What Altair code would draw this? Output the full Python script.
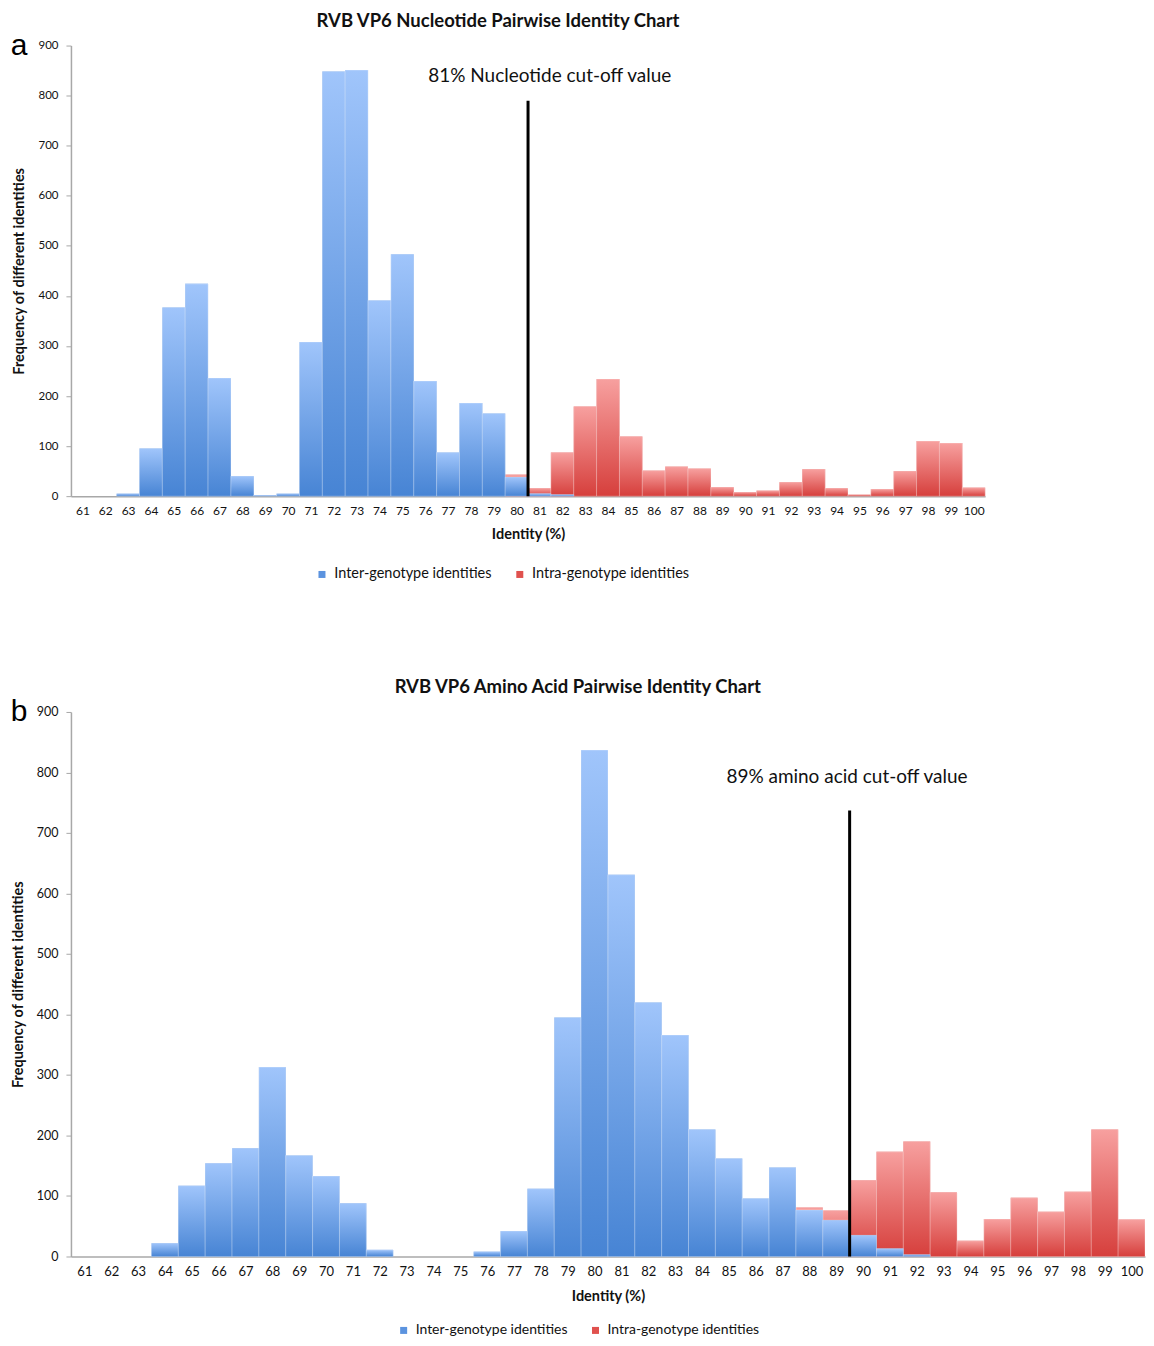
import altair as alt
import pandas as pd

# ---------------- data ----------------
identity = list(range(61, 101))
series_names = ["Inter-genotype identities", "Intra-genotype identities"]

# Panel a: nucleotide pairwise identities
nt_inter = [0, 0, 5, 95, 377, 424, 236, 40, 2, 5,
            308, 848, 851, 391, 483, 230, 87, 186, 165, 38,
            5, 3, 0, 0, 0, 0, 0, 0, 0, 0,
            0, 0, 0, 0, 0, 0, 0, 0, 0, 0]
nt_intra = [0, 0, 0, 0, 0, 0, 0, 0, 0, 0,
            0, 0, 0, 0, 0, 0, 0, 0, 0, 43,
            16, 87, 179, 234, 119, 51, 59, 55, 18, 8,
            11, 28, 54, 16, 3, 14, 50, 110, 106, 17]
nt_cutoff = [80.5]
nt_cutoff_top = [790]
nt_note = ["81% Nucleotide cut-off value"]
nt_note_pos = [81.45, 840]

# Panel b: amino acid pairwise identities
aa_inter = [0, 0, 0, 22, 117, 154, 179, 313, 167, 133,
            88, 11, 0, 0, 0, 8, 42, 112, 395, 837,
            631, 420, 366, 210, 162, 96, 147, 77, 60, 35,
            13, 3, 0, 0, 0, 0, 0, 0, 0, 0]
aa_intra = [0, 0, 0, 0, 0, 0, 0, 0, 0, 0,
            0, 0, 0, 0, 0, 0, 0, 0, 0, 0,
            0, 0, 0, 0, 0, 0, 0, 81, 76, 126,
            173, 190, 106, 26, 62, 97, 74, 107, 210, 61]
aa_cutoff = [89.5]
aa_cutoff_top = [737]
aa_note = ["89% amino acid cut-off value"]
aa_note_pos = [89.4, 793]

y_ticks = list(range(0, 901, 100))

FONT = "Lato"
BLUE_FLAT = "#5b93df"
RED_FLAT = "#e0514e"
blue_grad = alt.Gradient(gradient="linear",
                         stops=[alt.GradientStop(color="#a0c5fb", offset=0),
                                alt.GradientStop(color="#4784d4", offset=1)],
                         x1=0, x2=0, y1=0, y2=1)
red_grad = alt.Gradient(gradient="linear",
                        stops=[alt.GradientStop(color="#f7a09f", offset=0),
                               alt.GradientStop(color="#d63f3c", offset=1)],
                        x1=0, x2=0, y1=0, y2=1)


def panel(inter, intra, cutoff, cutoff_top, note, note_pos, letter, title,
          width, height, xlab_size, ylab_size, legend_x, legend_y, legend_size,
          title_offset):
    df = pd.DataFrame({
        "id": identity * 2,
        "value": inter + intra,
        "series": [series_names[0]] * len(identity) + [series_names[1]] * len(identity),
    })
    base = (alt.Chart(df)
            .transform_filter("datum.value > 0")
            .transform_calculate(lo="datum.id - 0.5", hi="datum.id + 0.5"))

    x_scale = alt.Scale(domain=[60.5, 100.5], nice=False, zero=False)
    y_scale = alt.Scale(domain=[0, 900], nice=False)
    x_axis = alt.Axis(values=identity, format="d", title="Identity (%)",
                      ticks=False, grid=False, labelFont=FONT,
                      labelFontSize=xlab_size, labelColor="#111",
                      labelPadding=9, labelFlush=False, labelOverlap=False,
                      labelBound=False,
                      domainColor="#a8a8a8", domainWidth=1.5,
                      titleFont=FONT, titleFontSize=14.5, titleFontWeight="bold",
                      titleColor="#111", titlePadding=11)
    y_axis = alt.Axis(values=y_ticks, format="d",
                      title="Frequency of different identities",
                      grid=False, tickSize=5, tickColor="#a8a8a8",
                      labelFont=FONT, labelFontSize=ylab_size,
                      labelColor="#111", labelPadding=8, labelOverlap=False,
                      domainColor="#a8a8a8", domainWidth=1.5,
                      titleFont=FONT, titleFontSize=14.5, titleFontWeight="bold",
                      titleColor="#111", titlePadding=11)

    def X(field):
        return alt.X(field, scale=x_scale, axis=x_axis)

    def Y(field):
        return alt.Y(field, scale=y_scale, axis=y_axis)

    color = alt.Color("series:N",
                      scale=alt.Scale(domain=series_names, range=[BLUE_FLAT, RED_FLAT]),
                      legend=alt.Legend(orient="none", legendX=legend_x, legendY=legend_y,
                                        direction="horizontal", title=None,
                                        symbolType="square", symbolSize=49,
                                        symbolStrokeWidth=0, labelFont=FONT,
                                        labelFontSize=legend_size, labelColor="#111",
                                        labelOffset=5, columnPadding=20, padding=0))

    def bars(name, grad):
        sub = base.transform_filter(alt.datum.series == name)
        flat = sub.mark_bar().encode(x=X("lo:Q"), x2="hi:Q", y=Y("value:Q"),
                                     y2=alt.datum(0), color=color)
        g = sub.mark_bar(color=grad, stroke="white", strokeWidth=0.6,
                         strokeOpacity=0.45).encode(x=X("lo:Q"), x2="hi:Q",
                                                    y=Y("value:Q"), y2=alt.datum(0))
        return [flat, g]

    layers = bars(series_names[1], red_grad) + bars(series_names[0], blue_grad)

    rule_df = pd.DataFrame({"cut": cutoff, "top": cutoff_top})
    rule = alt.Chart(rule_df).mark_rule(color="black", strokeWidth=3).encode(
        x=X("cut:Q"), y=Y("top:Q"), y2=alt.datum(0))

    note_df = pd.DataFrame({"note": note, "nx": [note_pos[0]], "ny": [note_pos[1]]})
    note_mark = alt.Chart(note_df).mark_text(
        font=FONT, fontSize=19, align="center", baseline="middle", color="#111"
    ).encode(x=X("nx:Q"), y=Y("ny:Q"), text="note:N")

    letter_df = pd.DataFrame({"t": [letter]})
    letter_mark = alt.Chart(letter_df).mark_text(
        font="Liberation Sans", fontSize=30, align="center", baseline="middle", color="black"
    ).encode(x=alt.value(-52), y=alt.value(0), text="t:N")

    return alt.layer(*layers, rule, note_mark, letter_mark).properties(
        width=width, height=height,
        title=alt.TitleParams(title, font=FONT, fontSize=18.5, fontWeight="bold",
                              color="#111", anchor="middle", frame="bounds",
                              offset=title_offset),
    )


top = panel(nt_inter, nt_intra, nt_cutoff, nt_cutoff_top, nt_note, nt_note_pos, "a",
            "RVB VP6 Nucleotide Pairwise Identity Chart", 915, 451, 12, 11.5,
            244, 522, 14.5, 0)
bottom = panel(aa_inter, aa_intra, aa_cutoff, aa_cutoff_top, aa_note, aa_note_pos, "b",
               "RVB VP6 Amino Acid Pairwise Identity Chart", 1075, 545, 13, 12.5,
               326, 612, 14, 0)

chart = (alt.vconcat(top, bottom, spacing=97)
         .resolve_scale(x="independent", y="independent", color="independent")
         .resolve_legend(color="independent")
         .properties(padding={"left": 2, "top": 3, "right": 0, "bottom": 0},
                     background="white")
         .configure_view(stroke=None))

chart.save("out.html", embed_options={"renderer": "svg", "actions": False})
